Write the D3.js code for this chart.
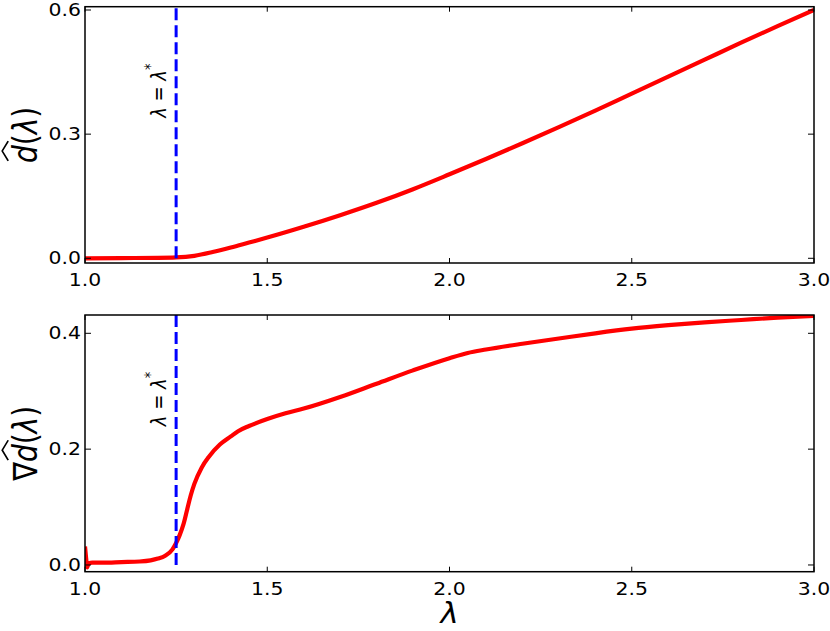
<!DOCTYPE html>
<html>
<head>
<meta charset="utf-8">
<script src="https://cdn.jsdelivr.net/npm/d3@7"></script>
<style>
  html, body { margin: 0; padding: 0; background: #fff; }
  svg { display: block; }
  text { font-family: "DejaVu Sans", sans-serif; fill: #000; }
</style>
</head>
<body>
<svg id="chart" width="830" height="631"></svg>
<script>
// ---------- data ----------
const xTicks = [1.0, 1.5, 2.0, 2.5, 3.0];
const xTickLabels = ["1.0", "1.5", "2.0", "2.5", "3.0"];
const topYTicks = [0.0, 0.3, 0.6];
const topYTickLabels = ["0.0", "0.3", "0.6"];
const botYTicks = [0.0, 0.2, 0.4];
const botYTickLabels = ["0.0", "0.2", "0.4"];
const lambdaStar = 1.25;

// d-hat(lambda)
const dLambda = [1.0, 1.1, 1.2, 1.25, 1.3, 1.35, 1.4, 1.45, 1.5, 1.6, 1.7, 1.8, 1.9, 2.0, 2.1, 2.2, 2.3, 2.4, 2.5, 2.6, 2.7, 2.8, 2.9, 3.0];
const dValues  = [0.0, 0.0005, 0.001, 0.002, 0.006, 0.015, 0.026, 0.038, 0.05, 0.076, 0.104, 0.134, 0.167, 0.203, 0.24, 0.278, 0.317, 0.357, 0.398, 0.439, 0.48, 0.521, 0.561, 0.6];

// gradient of d-hat(lambda)
const gLambda = [1.0, 1.003, 1.006, 1.01, 1.02, 1.05, 1.1, 1.15, 1.18, 1.2, 1.22, 1.24, 1.25, 1.26, 1.27, 1.28, 1.29, 1.3, 1.32, 1.34, 1.37, 1.4, 1.42, 1.45, 1.5, 1.55, 1.6, 1.7, 1.8, 1.9, 2.0, 2.05, 2.1, 2.2, 2.3, 2.4, 2.5, 2.6, 2.7, 2.8, 2.9, 3.0];
const gValues  = [0.032, 0.012, -0.004, 0.003, 0.004, 0.004, 0.005, 0.006, 0.008, 0.011, 0.016, 0.027, 0.038, 0.052, 0.07, 0.095, 0.12, 0.14, 0.168, 0.187, 0.208, 0.222, 0.231, 0.24, 0.252, 0.262, 0.27, 0.29, 0.313, 0.336, 0.357, 0.366, 0.372, 0.382, 0.391, 0.4, 0.408, 0.414, 0.419, 0.423, 0.427, 0.43];

// ---------- layout ----------
const SX = 1.2;            // horizontal text stretch seen in the reference
const left = 85, right = 814;
const panels = [
  { y0: 6.7, y1: 263, domain: [-0.0114, 0.608], ticks: topYTicks, labels: topYTickLabels,
    xs: dLambda, ys: dValues, ylab: ["", "d", "(", "λ", ")"], id: "top" },
  { y0: 315, y1: 571.7, domain: [-0.0116, 0.4316], ticks: botYTicks, labels: botYTickLabels,
    xs: gLambda, ys: gValues, ylab: ["∇", "d", "(", "λ", ")"], id: "bot" }
];

const svg = d3.select("#chart");
const x = d3.scaleLinear().domain([1, 3]).range([left, right]);

panels.forEach((p, pi) => {
  const y = d3.scaleLinear().domain(p.domain).range([p.y1, p.y0]);
  const g = svg.append("g");

  svg.append("defs").append("clipPath").attr("id", "clip-" + p.id)
    .append("rect").attr("x", left).attr("y", p.y0).attr("width", right - left).attr("height", p.y1 - p.y0);

  // curve
  const line = d3.line().x((d, i) => x(p.xs[i])).y((d, i) => y(p.ys[i])).curve(d3.curveMonotoneX);
  g.append("path").datum(p.ys).attr("d", line)
    .attr("fill", "none").attr("stroke", "#ff0000").attr("stroke-width", 4.2)
    .attr("stroke-linejoin", "round")
    .attr("clip-path", `url(#clip-${p.id})`);

  // lambda* vertical line
  g.append("line")
    .attr("x1", x(lambdaStar)).attr("x2", x(lambdaStar))
    .attr("y1", y(0)).attr("y2", p.y0)
    .attr("stroke", "#0000ff").attr("stroke-width", 3)
    .attr("stroke-dasharray", "12,5");

  // ticks (inward, all four sides)
  const tl = 5;
  xTicks.forEach(t => {
    g.append("line").attr("x1", x(t)).attr("x2", x(t)).attr("y1", p.y1).attr("y2", p.y1 - tl).attr("stroke", "#000");
    g.append("line").attr("x1", x(t)).attr("x2", x(t)).attr("y1", p.y0).attr("y2", p.y0 + tl).attr("stroke", "#000");
  });
  p.ticks.forEach(t => {
    g.append("line").attr("x1", left).attr("x2", left + 6).attr("y1", y(t)).attr("y2", y(t)).attr("stroke", "#000");
    g.append("line").attr("x1", right).attr("x2", right - 6).attr("y1", y(t)).attr("y2", y(t)).attr("stroke", "#000");
  });

  // frame
  g.append("rect").attr("x", left).attr("y", p.y0).attr("width", right - left).attr("height", p.y1 - p.y0)
    .attr("fill", "none").attr("stroke", "#000").attr("stroke-width", 1.5);

  // x tick labels
  xTicks.forEach((t, i) => {
    g.append("text")
      .attr("transform", `translate(${x(t)},${p.y1 + 23}) scale(${SX},1)`)
      .attr("text-anchor", "middle").attr("font-size", 17)
      .text(xTickLabels[i]);
  });
  // y tick labels
  p.ticks.forEach((t, i) => {
    g.append("text")
      .attr("transform", `translate(${left - 4},${y(t) + 6}) scale(${SX},1)`)
      .attr("text-anchor", "end").attr("font-size", 17)
      .text(p.labels[i]);
  });

  // annotation lambda = lambda*
  const ann = g.append("text")
    .attr("transform", `translate(166,${p.y0 + 84}) scale(${SX},1) rotate(-90)`)
    .attr("text-anchor", "middle").attr("font-size", 18);
  ann.append("tspan").attr("font-style", "italic").text("λ");
  ann.append("tspan").text(" = ");
  ann.append("tspan").attr("font-style", "italic").text("λ");
  ann.append("tspan").attr("font-size", 13).attr("dy", -8).text("*");

  // y axis label with hat over d
  const cy = (p.y0 + p.y1) / 2;
  const lg = g.append("g").attr("transform", `translate(37,${cy}) scale(${SX},1) rotate(-90)`);
  const lt = lg.append("text").attr("text-anchor", "middle").attr("font-size", 28);
  p.ylab.forEach((s, k) => {
    if (!s) return;
    lt.append("tspan").attr("font-style", (s === "d" || s === "λ") ? "italic" : "normal").text(s);
  });
  const txt = lt.node().textContent;
  const di = txt.indexOf("d");
  const s0 = lt.node().getStartPositionOfChar(di);
  const e0 = lt.node().getEndPositionOfChar(di);
  const hx0 = s0.x + 2, hx1 = e0.x + 4, hy = -24;
  lg.append("path")
    .attr("d", `M${hx0},${hy} L${(hx0 + hx1) / 2},${hy - 5} L${hx1},${hy}`)
    .attr("fill", "none").attr("stroke", "#000").attr("stroke-width", 1.4);
});

// x axis label
svg.append("text")
  .attr("transform", `translate(${(left + right) / 2},623) scale(1.1,1)`)
  .attr("text-anchor", "middle").attr("font-size", 28).attr("font-style", "italic")
  .text("λ");
</script>
</body>
</html>
